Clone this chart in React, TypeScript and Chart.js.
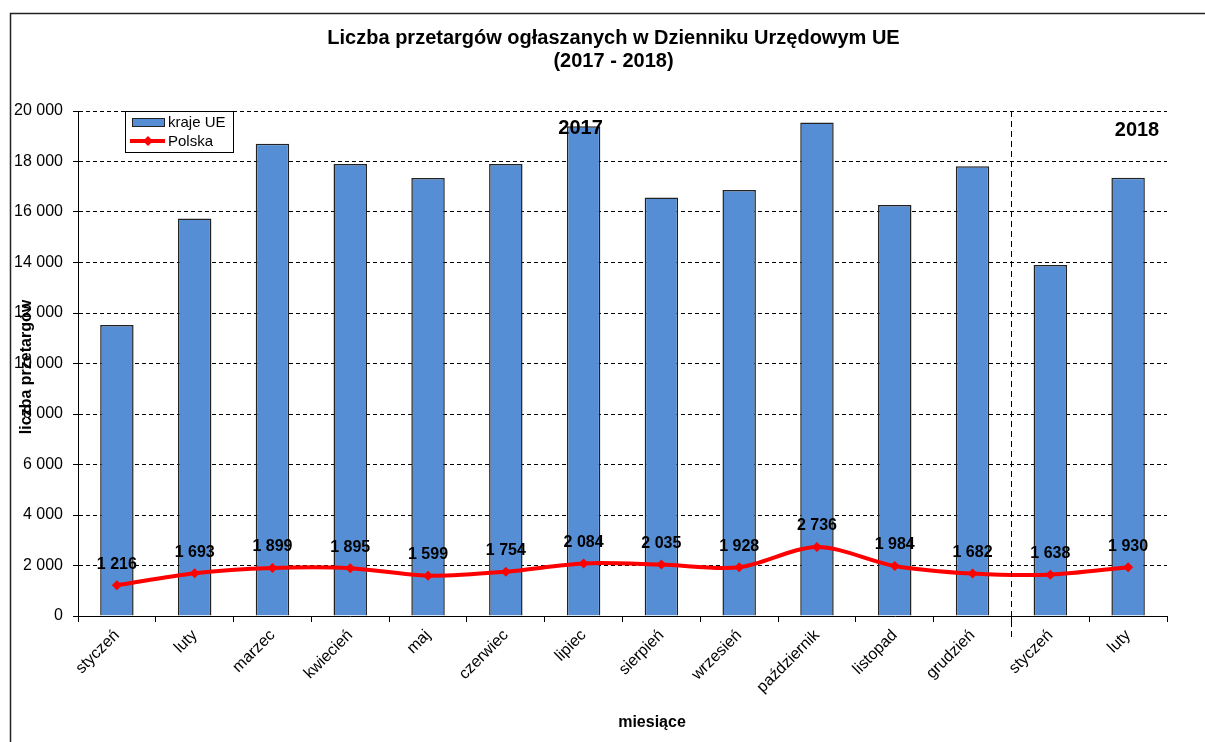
import React, { useEffect, useRef } from "react";
import { Chart, registerables } from "chart.js";

Chart.register(...registerables);

const categories = ["styczeń", "luty", "marzec", "kwiecień", "maj", "czerwiec", "lipiec", "sierpień", "wrzesień", "październik", "listopad", "grudzień", "styczeń", "luty"];
const euValues = [11520, 15740, 18700, 17900, 17350, 17900, 19400, 16570, 16870, 19540, 16280, 17810, 13900, 17360];
const plValues = [1216, 1693, 1899, 1895, 1599, 1754, 2084, 2035, 1928, 2736, 1984, 1682, 1638, 1930];
const seriesNames = ["kraje UE", "Polska"];
const titleLines = ["Liczba przetargów ogłaszanych w Dzienniku Urzędowym UE", "(2017 - 2018)"];
const yearLabels = ["2017", "2018"];
const yAxisTitle = "liczba przetargów";
const xAxisTitle = "miesiące";
const Y_MIN = 0;
const Y_MAX = 20000;
const Y_STEP = 2000;

const FONT = 'Arial, "Liberation Sans", sans-serif';
const BLUE = "#558ED5";
const RED = "#FF0000";

const fmt = (v: number) => String(Math.round(v)).replace(/\B(?=(\d{3})+(?!\d))/g, " ");

const decorPlugin = {
  id: "decor",
  beforeDraw(chart: any) {
    const ctx = chart.ctx;
    ctx.save();
    ctx.fillStyle = "#fff";
    ctx.fillRect(0, 0, chart.width, chart.height);
    ctx.restore();
  },
  afterDraw(chart: any) {
    const ctx = chart.ctx;
    const area = chart.chartArea;
    const xs = chart.scales.x;
    ctx.save();
    // outer frame
    ctx.strokeStyle = "#222";
    ctx.lineWidth = 1.5;
    ctx.beginPath();
    ctx.moveTo(10.5, chart.height + 2);
    ctx.lineTo(10.5, 13.5);
    ctx.lineTo(chart.width + 2, 13.5);
    ctx.stroke();

    // title
    ctx.fillStyle = "#000";
    ctx.textAlign = "center";
    ctx.textBaseline = "middle";
    ctx.font = `bold 20px ${FONT}`;
    const tcx = (area.left + area.right) / 2;
    ctx.fillText(titleLines[0], tcx - 9, 38);
    ctx.fillText(titleLines[1], tcx - 9, 61);

    // year separator
    const sepX = (xs.getPixelForValue(11) + xs.getPixelForValue(12)) / 2;
    ctx.strokeStyle = "#000";
    ctx.lineWidth = 1;
    ctx.setLineDash([6, 4]);
    ctx.beginPath();
    ctx.moveTo(Math.round(sepX) + 0.5, area.top);
    ctx.lineTo(Math.round(sepX) + 0.5, area.bottom + 24);
    ctx.stroke();
    ctx.setLineDash([]);

    // year labels
    ctx.font = `bold 20px ${FONT}`;
    ctx.textAlign = "center";
    ctx.fillText(yearLabels[0], xs.getPixelForValue(6) - 3, area.top + 17);
    ctx.fillText(yearLabels[1], area.right - 30, area.top + 19);

    // data labels
    const meta = chart.getDatasetMeta(1);
    ctx.font = `bold 16px ${FONT}`;
    meta.data.forEach((pt: any, i: number) => {
      ctx.fillText(fmt(plValues[i]), pt.x, pt.y - 21);
    });

    // axis titles
    ctx.font = `bold 16px ${FONT}`;
    ctx.fillText(xAxisTitle, 652, 723);
    ctx.save();
    ctx.translate(27, 367);
    ctx.rotate(-Math.PI / 2);
    ctx.fillText(yAxisTitle, 0, 0);
    ctx.restore();

    // legend
    const lx = area.left + 47;
    const ly = area.top;
    ctx.fillStyle = "#fff";
    ctx.fillRect(lx, ly, 108, 41);
    ctx.strokeStyle = "#000";
    ctx.lineWidth = 1;
    ctx.strokeRect(lx + 0.5, ly + 0.5, 108, 41);
    ctx.fillStyle = BLUE;
    ctx.fillRect(lx + 7, ly + 7, 32, 8);
    ctx.strokeStyle = "#222";
    ctx.strokeRect(lx + 7.5, ly + 7.5, 32, 8);
    ctx.strokeStyle = RED;
    ctx.lineWidth = 4;
    ctx.beginPath();
    ctx.moveTo(lx + 5, ly + 30);
    ctx.lineTo(lx + 40, ly + 30);
    ctx.stroke();
    ctx.fillStyle = RED;
    ctx.beginPath();
    ctx.moveTo(lx + 23, ly + 25);
    ctx.lineTo(lx + 28, ly + 30);
    ctx.lineTo(lx + 23, ly + 35);
    ctx.lineTo(lx + 18, ly + 30);
    ctx.closePath();
    ctx.fill();
    ctx.fillStyle = "#000";
    ctx.textAlign = "left";
    ctx.font = `15px ${FONT}`;
    ctx.fillText(seriesNames[0], lx + 43, ly + 12);
    ctx.fillText(seriesNames[1], lx + 43, ly + 31);
    ctx.restore();
  },
};

export default function App() {
  const ref = useRef<HTMLCanvasElement>(null);
  useEffect(() => {
    document.body.style.margin = "0";
    Chart.defaults.font.family = FONT;
    Chart.defaults.color = "#000";
    const chart = new Chart(ref.current as HTMLCanvasElement, {
      type: "bar",
      data: {
        labels: categories,
        datasets: [
          {
            type: "bar",
            label: seriesNames[0],
            data: euValues,
            backgroundColor: BLUE,
            borderColor: "#222",
            borderWidth: 1.5,
            barPercentage: 0.43,
            categoryPercentage: 1,
            order: 2,
          },
          {
            type: "line",
            label: seriesNames[1],
            data: plValues,
            borderColor: RED,
            backgroundColor: RED,
            borderWidth: 4,
            tension: 0.3,
            pointStyle: "rectRot",
            pointRadius: 5,
            pointBorderWidth: 0,
            order: 1,
          } as any,
        ],
      },
      options: {
        responsive: false,
        animation: false,
        layout: { padding: { left: 0, top: 111, right: 38, bottom: 0 } },
        plugins: {
          legend: { display: false },
          title: { display: false },
          tooltip: { enabled: false },
        },
        scales: {
          x: {
            afterFit: (s: any) => {
              s.height = 126;
            },
            grid: {
              offset: true,
              drawOnChartArea: false,
              color: "#000",
              tickColor: "#000",
              tickLength: 6,
            },
            border: { display: true, color: "#000", width: 1 },
            ticks: {
              autoSkip: false,
              maxRotation: 45,
              minRotation: 45,
              padding: 4,
              font: { size: 16, family: FONT },
              color: "#000",
            },
          },
          y: {
            min: Y_MIN,
            max: Y_MAX,
            afterFit: (s: any) => {
              s.width = 78;
            },
            grid: {
              color: "#000",
              tickColor: "#000",
              tickLength: 5,
              lineWidth: 1,
            },
            border: { display: true, color: "#000", width: 1, dash: [4, 3] },
            ticks: {
              stepSize: Y_STEP,
              padding: 10,
              font: { size: 16, family: FONT },
              color: "#000",
              callback: (v: any) => fmt(Number(v)),
            },
          },
        },
      },
      plugins: [decorPlugin],
    });
    return () => chart.destroy();
  }, []);
  return (
    <div style={{ position: "absolute", left: 0, top: 0, width: 1205, height: 742 }}>
      <canvas ref={ref} width={1205} height={742} />
    </div>
  );
}
